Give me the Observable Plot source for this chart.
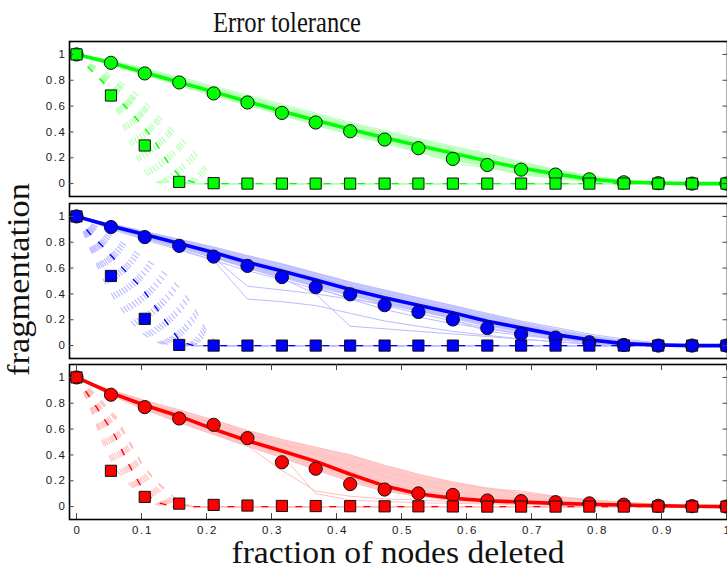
<!DOCTYPE html>
<html>
<head>
<meta charset="utf-8">
<script src="https://cdn.jsdelivr.net/npm/d3@7"></script>
<script src="https://cdn.jsdelivr.net/npm/@observablehq/plot@0.6"></script>
<style>
  html, body { margin: 0; padding: 0; background: #fff; }
  #fig { position: relative; width: 727px; height: 566px; overflow: hidden; background: #fff; }
  #fig .panel { position: absolute; left: 0; }
  #fig .panel text { letter-spacing: 1.6px; }
  #fig svg.labels { position: absolute; left: 0; top: 0; pointer-events: none; }
</style>
</head>
<body>
<div id="fig"></div>
<script>
// fraction of nodes deleted, sampled steps
const fracs = [0, 0.053, 0.105, 0.158, 0.211, 0.263, 0.316, 0.368, 0.421, 0.474, 0.526, 0.579, 0.632, 0.684, 0.737, 0.789, 0.842, 0.895, 0.947, 1];
// finer steps used by the targeted-attack curves
const fineFracs = [0, 0.02, 0.04, 0.06, 0.08, 0.10, 0.12, 0.14, 0.16, 0.18, 0.20, 0.22, 0.24, 1];

const yTicks = [0, 0.2, 0.4, 0.6, 0.8, 1];
const xTicks = [0, 0.1, 0.2, 0.3, 0.4, 0.5, 0.6, 0.7, 0.8, 0.9, 1];

// ---- top network (green) ----
const topRandomMean = [1, 0.935, 0.86, 0.785, 0.71, 0.635, 0.56, 0.49, 0.42, 0.355, 0.295, 0.235, 0.175, 0.12, 0.075, 0.035, 0.012, 0.004, 0, 0];
const topRandomRun = [1, 0.935, 0.853, 0.783, 0.698, 0.628, 0.547, 0.473, 0.405, 0.341, 0.274, 0.191, 0.144, 0.108, 0.07, 0.033, 0.01, 0.003, 0, 0];
const topBandHigh = [1, 0.955, 0.885, 0.815, 0.745, 0.675, 0.605, 0.535, 0.465, 0.40, 0.34, 0.28, 0.22, 0.16, 0.105, 0.06, 0.025, 0.008, 0, 0];
const topBandLow = [1, 0.915, 0.835, 0.755, 0.675, 0.60, 0.525, 0.45, 0.38, 0.31, 0.245, 0.18, 0.125, 0.08, 0.045, 0.02, 0.005, 0, 0, 0];
const topRandomRuns = [
  [1, 0.955, 0.89, 0.825, 0.755, 0.685, 0.615, 0.545, 0.475, 0.41, 0.35, 0.29, 0.23, 0.17, 0.11, 0.06, 0.025, 0.008, 0, 0],
  [1, 0.94, 0.87, 0.80, 0.72, 0.65, 0.58, 0.51, 0.44, 0.37, 0.31, 0.25, 0.19, 0.13, 0.08, 0.04, 0.015, 0.004, 0, 0],
  [1, 0.93, 0.85, 0.77, 0.70, 0.62, 0.55, 0.47, 0.40, 0.33, 0.27, 0.21, 0.15, 0.10, 0.06, 0.03, 0.01, 0, 0, 0],
  [1, 0.92, 0.84, 0.76, 0.68, 0.61, 0.53, 0.45, 0.38, 0.31, 0.24, 0.18, 0.13, 0.08, 0.05, 0.02, 0.01, 0, 0, 0],
  [1, 0.93, 0.86, 0.79, 0.71, 0.63, 0.55, 0.48, 0.40, 0.33, 0.25, 0.16, 0.12, 0.08, 0.04, 0.02, 0.005, 0, 0, 0],
  [1, 0.94, 0.87, 0.79, 0.72, 0.64, 0.57, 0.50, 0.43, 0.36, 0.29, 0.22, 0.14, 0.09, 0.05, 0.02, 0.01, 0, 0, 0],
  [1, 0.93, 0.85, 0.78, 0.70, 0.63, 0.56, 0.49, 0.41, 0.34, 0.27, 0.20, 0.13, 0.07, 0.04, 0.015, 0.005, 0, 0, 0],
  [1, 0.95, 0.88, 0.81, 0.74, 0.67, 0.60, 0.53, 0.46, 0.40, 0.34, 0.28, 0.22, 0.16, 0.10, 0.055, 0.02, 0.005, 0, 0]
];
const topAttackRun = [1, 0.682, 0.295, 0.013, 0.003, 0, 0, 0, 0, 0, 0, 0, 0, 0, 0, 0, 0, 0, 0, 0];
const topAttackMean = [1, 0.89, 0.79, 0.68, 0.57, 0.46, 0.33, 0.17, 0.05, 0.01, 0, 0, 0, 0];
const topAttackRuns = [
  [1, 0.89, 0.78, 0.59, 0.35, 0.13, 0.01, 0, 0, 0, 0, 0, 0, 0],
  [1, 0.895, 0.785, 0.62, 0.40, 0.18, 0.03, 0, 0, 0, 0, 0, 0, 0],
  [1, 0.90, 0.79, 0.64, 0.45, 0.24, 0.06, 0, 0, 0, 0, 0, 0, 0],
  [1, 0.905, 0.795, 0.66, 0.50, 0.30, 0.11, 0.01, 0, 0, 0, 0, 0, 0],
  [1, 0.91, 0.80, 0.68, 0.54, 0.36, 0.16, 0.02, 0, 0, 0, 0, 0, 0],
  [1, 0.91, 0.81, 0.70, 0.57, 0.41, 0.22, 0.06, 0, 0, 0, 0, 0, 0],
  [1, 0.91, 0.82, 0.71, 0.59, 0.45, 0.28, 0.10, 0.01, 0, 0, 0, 0, 0],
  [1, 0.915, 0.825, 0.72, 0.61, 0.48, 0.33, 0.16, 0.04, 0, 0, 0, 0, 0],
  [1, 0.92, 0.83, 0.73, 0.63, 0.51, 0.37, 0.22, 0.07, 0, 0, 0, 0, 0],
  [1, 0.92, 0.835, 0.74, 0.645, 0.53, 0.40, 0.26, 0.12, 0.02, 0, 0, 0, 0],
  [1, 0.92, 0.84, 0.75, 0.66, 0.55, 0.43, 0.30, 0.16, 0.04, 0, 0, 0, 0],
  [1, 0.92, 0.85, 0.77, 0.68, 0.58, 0.48, 0.37, 0.25, 0.12, 0.02, 0, 0, 0],
  [1, 0.925, 0.855, 0.78, 0.695, 0.60, 0.50, 0.40, 0.28, 0.16, 0.04, 0, 0, 0],
  [1, 0.93, 0.86, 0.79, 0.71, 0.62, 0.52, 0.42, 0.31, 0.20, 0.07, 0, 0, 0],
  [1, 0.93, 0.88, 0.81, 0.74, 0.66, 0.55, 0.45, 0.35, 0.25, 0.10, 0, 0, 0]
];

// ---- middle network (blue) ----
const midRandomMean = [1, 0.925, 0.86, 0.79, 0.72, 0.645, 0.578, 0.508, 0.435, 0.37, 0.313, 0.254, 0.189, 0.137, 0.085, 0.045, 0.015, 0.005, 0, 0];
const midRandomRun = [1, 0.918, 0.84, 0.772, 0.689, 0.617, 0.53, 0.452, 0.397, 0.313, 0.26, 0.202, 0.136, 0.089, 0.062, 0.026, 0.005, 0, 0, 0];
const midBandHigh = [1, 0.945, 0.885, 0.825, 0.765, 0.70, 0.635, 0.565, 0.495, 0.43, 0.37, 0.31, 0.245, 0.185, 0.13, 0.08, 0.04, 0.015, 0.004, 0];
const midBandLow = [1, 0.905, 0.83, 0.755, 0.675, 0.595, 0.52, 0.45, 0.38, 0.315, 0.26, 0.2, 0.145, 0.095, 0.055, 0.022, 0.006, 0, 0, 0];
const midRandomRuns = [
  [1, 0.94, 0.88, 0.82, 0.76, 0.69, 0.63, 0.56, 0.49, 0.43, 0.37, 0.31, 0.25, 0.19, 0.14, 0.09, 0.05, 0.02, 0.005, 0],
  [1, 0.93, 0.87, 0.80, 0.74, 0.67, 0.60, 0.53, 0.46, 0.40, 0.34, 0.28, 0.22, 0.16, 0.11, 0.07, 0.03, 0.01, 0, 0],
  [1, 0.92, 0.85, 0.78, 0.71, 0.63, 0.56, 0.49, 0.42, 0.36, 0.30, 0.24, 0.18, 0.13, 0.08, 0.04, 0.015, 0.004, 0, 0],
  [1, 0.91, 0.84, 0.76, 0.69, 0.61, 0.54, 0.47, 0.40, 0.34, 0.28, 0.22, 0.16, 0.11, 0.07, 0.03, 0.01, 0, 0, 0],
  [1, 0.90, 0.82, 0.74, 0.66, 0.58, 0.51, 0.44, 0.37, 0.31, 0.25, 0.19, 0.14, 0.09, 0.05, 0.02, 0.005, 0, 0, 0],
  [1, 0.91, 0.84, 0.76, 0.68, 0.46, 0.43, 0.40, 0.36, 0.32, 0.27, 0.22, 0.17, 0.12, 0.07, 0.03, 0.01, 0, 0, 0],
  [1, 0.91, 0.83, 0.75, 0.66, 0.36, 0.34, 0.31, 0.25, 0.19, 0.15, 0.11, 0.08, 0.05, 0.03, 0.01, 0, 0, 0, 0],
  [1, 0.92, 0.84, 0.76, 0.68, 0.60, 0.52, 0.40, 0.15, 0.13, 0.11, 0.09, 0.07, 0.05, 0.03, 0.015, 0.005, 0, 0, 0],
  [1, 0.93, 0.86, 0.79, 0.72, 0.65, 0.58, 0.51, 0.44, 0.37, 0.30, 0.20, 0.11, 0.08, 0.05, 0.03, 0.01, 0, 0, 0],
  [1, 0.92, 0.855, 0.78, 0.70, 0.62, 0.55, 0.45, 0.36, 0.28, 0.22, 0.17, 0.13, 0.09, 0.06, 0.03, 0.01, 0, 0, 0]
];
const midAttackRun = [1, 0.539, 0.207, 0.005, 0, 0, 0, 0, 0, 0, 0, 0, 0, 0, 0, 0, 0, 0, 0, 0];
const midAttackMean = [1, 0.87, 0.77, 0.66, 0.55, 0.45, 0.31, 0.17, 0.03, 0, 0, 0, 0, 0];
const midAttackRuns = [
  [1, 0.76, 0.52, 0.35, 0.21, 0.10, 0.035, 0, 0, 0, 0, 0, 0, 0],
  [1, 0.78, 0.56, 0.39, 0.25, 0.135, 0.05, 0.005, 0, 0, 0, 0, 0, 0],
  [1, 0.80, 0.60, 0.43, 0.29, 0.17, 0.07, 0.01, 0, 0, 0, 0, 0, 0],
  [1, 0.815, 0.63, 0.47, 0.33, 0.21, 0.10, 0.03, 0, 0, 0, 0, 0, 0],
  [1, 0.83, 0.66, 0.51, 0.37, 0.25, 0.14, 0.05, 0, 0, 0, 0, 0, 0],
  [1, 0.845, 0.69, 0.545, 0.41, 0.29, 0.175, 0.075, 0.01, 0, 0, 0, 0, 0],
  [1, 0.86, 0.72, 0.58, 0.45, 0.33, 0.21, 0.10, 0.02, 0, 0, 0, 0, 0],
  [1, 0.87, 0.74, 0.61, 0.485, 0.37, 0.25, 0.135, 0.04, 0, 0, 0, 0, 0],
  [1, 0.88, 0.76, 0.64, 0.52, 0.41, 0.29, 0.17, 0.06, 0, 0, 0, 0, 0],
  [1, 0.885, 0.775, 0.66, 0.55, 0.44, 0.325, 0.205, 0.09, 0.01, 0, 0, 0, 0],
  [1, 0.89, 0.79, 0.68, 0.58, 0.47, 0.36, 0.24, 0.12, 0.02, 0, 0, 0, 0],
  [1, 0.90, 0.805, 0.70, 0.605, 0.50, 0.395, 0.28, 0.16, 0.05, 0, 0, 0, 0],
  [1, 0.91, 0.82, 0.72, 0.63, 0.53, 0.43, 0.32, 0.20, 0.08, 0, 0, 0, 0],
  [1, 0.92, 0.84, 0.75, 0.665, 0.575, 0.48, 0.375, 0.26, 0.135, 0.025, 0, 0, 0],
  [1, 0.93, 0.86, 0.78, 0.70, 0.62, 0.53, 0.43, 0.32, 0.19, 0.05, 0, 0, 0],
  [1, 0.94, 0.88, 0.805, 0.73, 0.655, 0.575, 0.485, 0.38, 0.245, 0.08, 0, 0, 0],
  [1, 0.95, 0.90, 0.83, 0.76, 0.69, 0.62, 0.54, 0.44, 0.30, 0.11, 0, 0, 0]
];

// ---- bottom network (red) ----
const lowRandomMean = [1, 0.88, 0.785, 0.70, 0.60, 0.51, 0.43, 0.35, 0.25, 0.16, 0.10, 0.065, 0.045, 0.035, 0.025, 0.018, 0.012, 0.007, 0.003, 0];
const lowRandomRun = [1, 0.866, 0.77, 0.682, 0.633, 0.53, 0.343, 0.293, 0.174, 0.132, 0.102, 0.09, 0.047, 0.042, 0.034, 0.025, 0.015, 0.006, 0.003, 0];
const lowBandHigh = [1, 0.905, 0.825, 0.745, 0.67, 0.59, 0.52, 0.46, 0.40, 0.32, 0.25, 0.19, 0.145, 0.11, 0.08, 0.055, 0.035, 0.018, 0.006, 0];
const lowBandLow = [1, 0.86, 0.75, 0.645, 0.55, 0.46, 0.37, 0.28, 0.19, 0.115, 0.07, 0.04, 0.025, 0.018, 0.012, 0.006, 0.002, 0, 0, 0];
const lowRandomRuns = [
  [1, 0.90, 0.82, 0.75, 0.67, 0.59, 0.52, 0.46, 0.40, 0.32, 0.25, 0.19, 0.14, 0.10, 0.075, 0.05, 0.03, 0.015, 0.005, 0],
  [1, 0.89, 0.80, 0.72, 0.64, 0.56, 0.48, 0.40, 0.32, 0.24, 0.17, 0.12, 0.08, 0.06, 0.04, 0.03, 0.02, 0.01, 0.004, 0],
  [1, 0.88, 0.79, 0.71, 0.62, 0.53, 0.45, 0.36, 0.27, 0.19, 0.13, 0.09, 0.06, 0.045, 0.03, 0.02, 0.012, 0.006, 0.002, 0],
  [1, 0.87, 0.77, 0.68, 0.59, 0.50, 0.41, 0.32, 0.22, 0.14, 0.09, 0.06, 0.04, 0.03, 0.02, 0.015, 0.01, 0.005, 0.002, 0],
  [1, 0.86, 0.75, 0.65, 0.56, 0.47, 0.38, 0.29, 0.19, 0.12, 0.08, 0.05, 0.035, 0.025, 0.02, 0.01, 0.006, 0.003, 0, 0],
  [1, 0.87, 0.76, 0.66, 0.57, 0.47, 0.28, 0.12, 0.08, 0.06, 0.05, 0.04, 0.03, 0.02, 0.015, 0.01, 0.005, 0, 0, 0],
  [1, 0.88, 0.78, 0.68, 0.59, 0.50, 0.40, 0.10, 0.05, 0.04, 0.03, 0.025, 0.02, 0.015, 0.01, 0.005, 0, 0, 0, 0],
  [1, 0.89, 0.81, 0.73, 0.65, 0.57, 0.49, 0.42, 0.34, 0.27, 0.21, 0.17, 0.14, 0.12, 0.08, 0.05, 0.03, 0.015, 0.005, 0]
];
const lowAttackRun = [1, 0.277, 0.075, 0.023, 0.013, 0.008, 0.005, 0.004, 0.003, 0.002, 0.002, 0.001, 0, 0, 0, 0, 0, 0, 0, 0];
const lowAttackMean = [1, 0.85, 0.70, 0.54, 0.33, 0.15, 0.04, 0.01, 0, 0, 0, 0, 0, 0];
const lowAttackRuns = [
  [1, 0.78, 0.50, 0.29, 0.18, 0.085, 0.02, 0, 0, 0, 0, 0, 0, 0],
  [1, 0.79, 0.53, 0.325, 0.20, 0.10, 0.03, 0.005, 0, 0, 0, 0, 0, 0],
  [1, 0.80, 0.56, 0.36, 0.22, 0.11, 0.04, 0.01, 0, 0, 0, 0, 0, 0],
  [1, 0.815, 0.595, 0.40, 0.245, 0.125, 0.05, 0.015, 0, 0, 0, 0, 0, 0],
  [1, 0.83, 0.63, 0.44, 0.27, 0.14, 0.06, 0.02, 0, 0, 0, 0, 0, 0],
  [1, 0.84, 0.655, 0.47, 0.295, 0.16, 0.07, 0.025, 0, 0, 0, 0, 0, 0],
  [1, 0.85, 0.68, 0.50, 0.32, 0.18, 0.08, 0.03, 0, 0, 0, 0, 0, 0],
  [1, 0.86, 0.70, 0.535, 0.355, 0.205, 0.10, 0.04, 0.005, 0, 0, 0, 0, 0],
  [1, 0.87, 0.72, 0.57, 0.39, 0.23, 0.12, 0.05, 0.01, 0, 0, 0, 0, 0],
  [1, 0.88, 0.74, 0.595, 0.42, 0.255, 0.14, 0.065, 0.015, 0, 0, 0, 0, 0],
  [1, 0.89, 0.76, 0.62, 0.45, 0.28, 0.16, 0.08, 0.02, 0, 0, 0, 0, 0],
  [1, 0.90, 0.79, 0.67, 0.50, 0.33, 0.20, 0.11, 0.03, 0, 0, 0, 0, 0],
  [1, 0.905, 0.80, 0.685, 0.51, 0.335, 0.205, 0.115, 0.025, 0, 0, 0, 0, 0],
  [1, 0.915, 0.81, 0.70, 0.52, 0.34, 0.21, 0.12, 0.02, 0, 0, 0, 0, 0]
];

const titleText = "Error tolerance";
const xLabel = "fraction of nodes deleted";
const yLabel = "fragmentation";

// ---------------------------------------------------------------
const W = 727;
const ML = 69;                    // left edge of each frame
const FRAME_H = 155;              // height of each panel frame
const PAD = 2;
const DASH = "6,11";

const toRows = (values, xs, id = 0) => values.map((v, i) => ({x: xs[i], y: v, id}));

function panel(cfg) {
  const mb = cfg.xAxis ? 20 : PAD;
  const frameW = W - ML;
  const runRows = cfg.runs.flatMap((s, k) => toRows(s, fracs, k));
  const atkRows = cfg.attackRuns.flatMap((s, k) => toRows(s, fineFracs, k));
  const band = fracs.map((x, i) => ({x, lo: cfg.bandLow[i], hi: cfg.bandHigh[i]}));
  const marks = [
    Plot.areaY(band, {x: "x", y1: "lo", y2: "hi", fill: cfg.light, fillOpacity: 0.85}),
    Plot.line(runRows, {x: "x", y: "y", z: "id", stroke: cfg.light, strokeWidth: 1}),
    Plot.line(atkRows, {x: "x", y: "y", z: "id", stroke: cfg.light, strokeWidth: 1.2, strokeDasharray: DASH}),
    Plot.line(toRows(cfg.mean, fracs), {x: "x", y: "y", stroke: cfg.color, strokeWidth: 3.6}),
    Plot.line(toRows(cfg.attackMean, fineFracs), {x: "x", y: "y", stroke: cfg.color, strokeWidth: 1.4, strokeDasharray: DASH}),
    Plot.dot(toRows(cfg.run, fracs), {x: "x", y: "y", r: 6.6, fill: cfg.color, stroke: "#111", strokeWidth: 1}),
    Plot.dot(toRows(cfg.attackRun, fracs), {x: "x", y: "y", symbol: "square", r: 6.3, fill: cfg.color, stroke: "#111", strokeWidth: 1}),
    Plot.frame({stroke: "#000", strokeWidth: 1.6}),
    Plot.tickY(yTicks, {y: d => d, insetRight: frameW - 4.5, stroke: "#444", strokeWidth: 1}),
    Plot.tickY(yTicks, {y: d => d, insetLeft: frameW - 4.5, stroke: "#444", strokeWidth: 1}),
    Plot.text(yTicks, {frameAnchor: "left", y: d => d, text: d => String(d), textAnchor: "end", dx: -3,
      fontSize: 11.5, fill: "#1a1a1a", fontFamily: "'Liberation Sans', Arial, sans-serif"})
  ];
  if (cfg.xAxis) {
    marks.push(
      Plot.tickX(xTicks, {x: d => d, insetBottom: FRAME_H - 6, stroke: "#444", strokeWidth: 1}),
      Plot.tickX(xTicks, {x: d => d, insetTop: FRAME_H - 6, stroke: "#444", strokeWidth: 1}),
      Plot.text(xTicks, {x: d => d, frameAnchor: "bottom", dy: 14, dx: 1, text: d => String(d), textAnchor: "middle",
        fontSize: 11.5, fill: "#1a1a1a", fontFamily: "'Liberation Sans', Arial, sans-serif"})
    );
  }
  const chart = Plot.plot({
    width: W,
    height: FRAME_H + PAD + mb,
    marginLeft: ML,
    marginRight: 0,
    marginTop: PAD,
    marginBottom: mb,
    x: {domain: [-7 / 650, 1 + 1 / 650], axis: null},
    y: {domain: [-0.1, 1.1], axis: null},
    style: {background: "transparent", overflow: "visible"},
    marks
  });
  const wrap = document.createElement("div");
  wrap.className = "panel";
  wrap.style.top = (cfg.top - PAD) + "px";
  wrap.appendChild(chart);
  return wrap;
}

const fig = document.getElementById("fig");
fig.appendChild(panel({top: 41.3, mean: topRandomMean, run: topRandomRun, runs: topRandomRuns,
  bandLow: topBandLow, bandHigh: topBandHigh,
  attackRun: topAttackRun, attackMean: topAttackMean, attackRuns: topAttackRuns,
  color: "#00ff00", light: "rgb(180,255,180)"}));
fig.appendChild(panel({top: 202.6, mean: midRandomMean, run: midRandomRun, runs: midRandomRuns,
  bandLow: midBandLow, bandHigh: midBandHigh,
  attackRun: midAttackRun, attackMean: midAttackMean, attackRuns: midAttackRuns,
  color: "#0000ff", light: "rgb(188,188,255)"}));
fig.appendChild(panel({top: 363.8, mean: lowRandomMean, run: lowRandomRun, runs: lowRandomRuns,
  bandLow: lowBandLow, bandHigh: lowBandHigh,
  attackRun: lowAttackRun, attackMean: lowAttackMean, attackRuns: lowAttackRuns,
  color: "#ff0000", light: "rgb(255,192,192)", xAxis: true}));

// title and axis titles
const labels = d3.select(fig).append("svg").attr("class", "labels").attr("width", W).attr("height", 566);
const serif = "'Liberation Serif', 'Times New Roman', serif";
labels.append("text").attr("x", 213).attr("y", 32).attr("textLength", 148).attr("lengthAdjust", "spacingAndGlyphs")
  .attr("font-family", serif).attr("font-size", 29).attr("fill", "#111").text(titleText);
labels.append("text").attr("x", 231.5).attr("y", 563).attr("textLength", 333).attr("lengthAdjust", "spacingAndGlyphs")
  .attr("font-family", serif).attr("font-size", 31).attr("fill", "#111").text(xLabel);
labels.append("text").attr("transform", "translate(29,376) rotate(-90)").attr("textLength", 193).attr("lengthAdjust", "spacingAndGlyphs")
  .attr("font-family", serif).attr("font-size", 31).attr("fill", "#111").text(yLabel);
</script>
</body>
</html>
